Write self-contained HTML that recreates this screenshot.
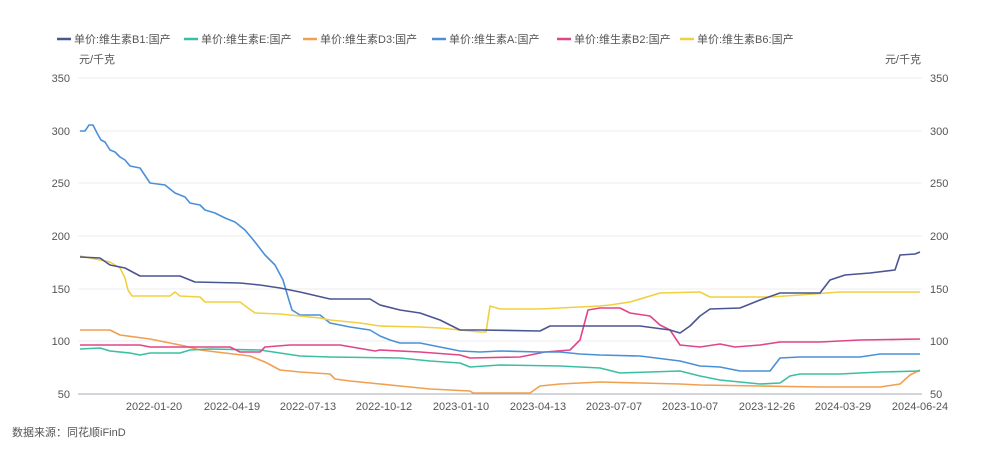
<!DOCTYPE html><html><head><meta charset="utf-8"><style>body{margin:0;background:#fff}svg{display:block}text{font-family:"Liberation Sans","Noto Sans CJK SC",sans-serif;fill:#555;font-size:11px}</style></head><body>
<svg width="1000" height="452" xmlns="http://www.w3.org/2000/svg">
<g stroke-width="2.5">
<line x1="57" y1="39" x2="71" y2="39" stroke="#4a5591"/><line x1="184" y1="39" x2="198" y2="39" stroke="#3cbfa0"/><line x1="303" y1="39" x2="317" y2="39" stroke="#f0a050"/><line x1="432" y1="39" x2="446" y2="39" stroke="#4a90d9"/><line x1="557" y1="39" x2="571" y2="39" stroke="#e0458a"/><line x1="680" y1="39" x2="694" y2="39" stroke="#f0d040"/></g>
<text x="74" y="43">单价:维生素B1:国产</text><text x="201" y="43">单价:维生素E:国产</text><text x="320" y="43">单价:维生素D3:国产</text><text x="449" y="43">单价:维生素A:国产</text><text x="574" y="43">单价:维生素B2:国产</text><text x="697" y="43">单价:维生素B6:国产</text>
<text x="79" y="63">元/千克</text><text x="921" y="63" text-anchor="end">元/千克</text>
<g stroke="#eee"><line x1="78" y1="78" x2="922" y2="78"/><line x1="78" y1="131" x2="922" y2="131"/><line x1="78" y1="183" x2="922" y2="183"/><line x1="78" y1="236" x2="922" y2="236"/><line x1="78" y1="289" x2="922" y2="289"/><line x1="78" y1="341" x2="922" y2="341"/></g>
<line x1="78" y1="394" x2="922" y2="394" stroke="#aab"/>
<g text-anchor="end"><text x="70" y="82">350</text><text x="70" y="135">300</text><text x="70" y="187">250</text><text x="70" y="240">200</text><text x="70" y="293">150</text><text x="70" y="345">100</text><text x="70" y="398">50</text></g>
<g><text x="930" y="82">350</text><text x="930" y="135">300</text><text x="930" y="187">250</text><text x="930" y="240">200</text><text x="930" y="293">150</text><text x="930" y="345">100</text><text x="930" y="398">50</text></g>
<g text-anchor="middle"><text x="154" y="410">2022-01-20</text><text x="232" y="410">2022-04-19</text><text x="308" y="410">2022-07-13</text><text x="384" y="410">2022-10-12</text><text x="461" y="410">2023-01-10</text><text x="538" y="410">2023-04-13</text><text x="614" y="410">2023-07-07</text><text x="690" y="410">2023-10-07</text><text x="767" y="410">2023-12-26</text><text x="843" y="410">2024-03-29</text><text x="920" y="410">2024-06-24</text></g>
<text x="12" y="436">数据来源：同花顺iFinD</text>
<g fill="none" stroke-width="1.6" stroke-linejoin="round">
<polyline stroke="#f0a050" points="80,330 110,330 120,335 150,339 170,343 185,346 200,350 250,356 265,362 280,370 300,372 330,374 335,379 350,381 380,384 400,386 430,389 470,391 473,393 530,393 540,386 560,384 600,382 640,383 680,384 700,385 760,386 820,387 880,387 900,384 910,375 920,370"/>
<polyline stroke="#3cbfa0" points="80,349 100,348 110,351 130,353 140,355 150,353 180,353 190,350 210,349 260,350 280,353 300,356 330,357 400,358 430,361 460,363 470,367 500,365 560,366 600,368 620,373 680,371 700,376 720,380 740,382 760,384 780,383 790,376 800,374 840,374 880,372 920,371"/>
<polyline stroke="#e0458a" points="80,345 140,345 150,347 230,347 240,352 260,352 265,347 290,345 340,345 375,351 380,350 420,352 460,355 470,358 520,357 545,352 570,350 580,340 588,310 600,308 620,308 630,313 650,316 660,325 670,330 680,345 700,347 720,344 735,347 760,345 780,342 820,342 860,340 920,339"/>
<polyline stroke="#4a90d9" points="80,131 85,131 89,125 93,125 97,133 101,140 105,142 110,150 115,152 120,157 125,160 130,166 140,168 150,183 165,185 175,193 185,197 190,203 200,205 205,210 215,213 225,218 235,222 245,230 255,242 265,255 275,265 283,280 288,297 292,310 300,315 320,315 330,323 350,327 370,330 380,336 390,340 400,343 420,343 440,347 460,351 480,352 500,351 540,352 560,352 580,354 600,355 640,356 680,361 700,366 720,367 740,371 770,371 780,358 800,357 860,357 880,354 920,354"/>
<polyline stroke="#f0d040" points="80,256 110,262 120,268 125,278 128,290 132,296 170,296 175,292 180,296 200,297 205,302 240,302 248,308 255,313 280,314 300,316 320,318 330,320 360,323 380,326 420,327 440,328 460,330 480,332 486,332 490,306 500,309 540,309 600,306 610,305 630,302 660,293 700,292 710,297 770,297 800,295 840,292 920,292"/>
<polyline stroke="#4a5591" points="80,257 100,258 110,265 125,268 140,276 180,276 195,282 240,283 260,285 280,288 300,292 330,299 370,299 380,305 400,310 420,313 440,320 450,325 460,330 480,330 540,331 550,326 640,326 670,330 680,333 690,326 700,316 710,309 740,308 760,300 780,293 820,293 830,280 845,275 870,273 895,270 900,255 915,254 920,252"/>
</g>
</svg></body></html>
